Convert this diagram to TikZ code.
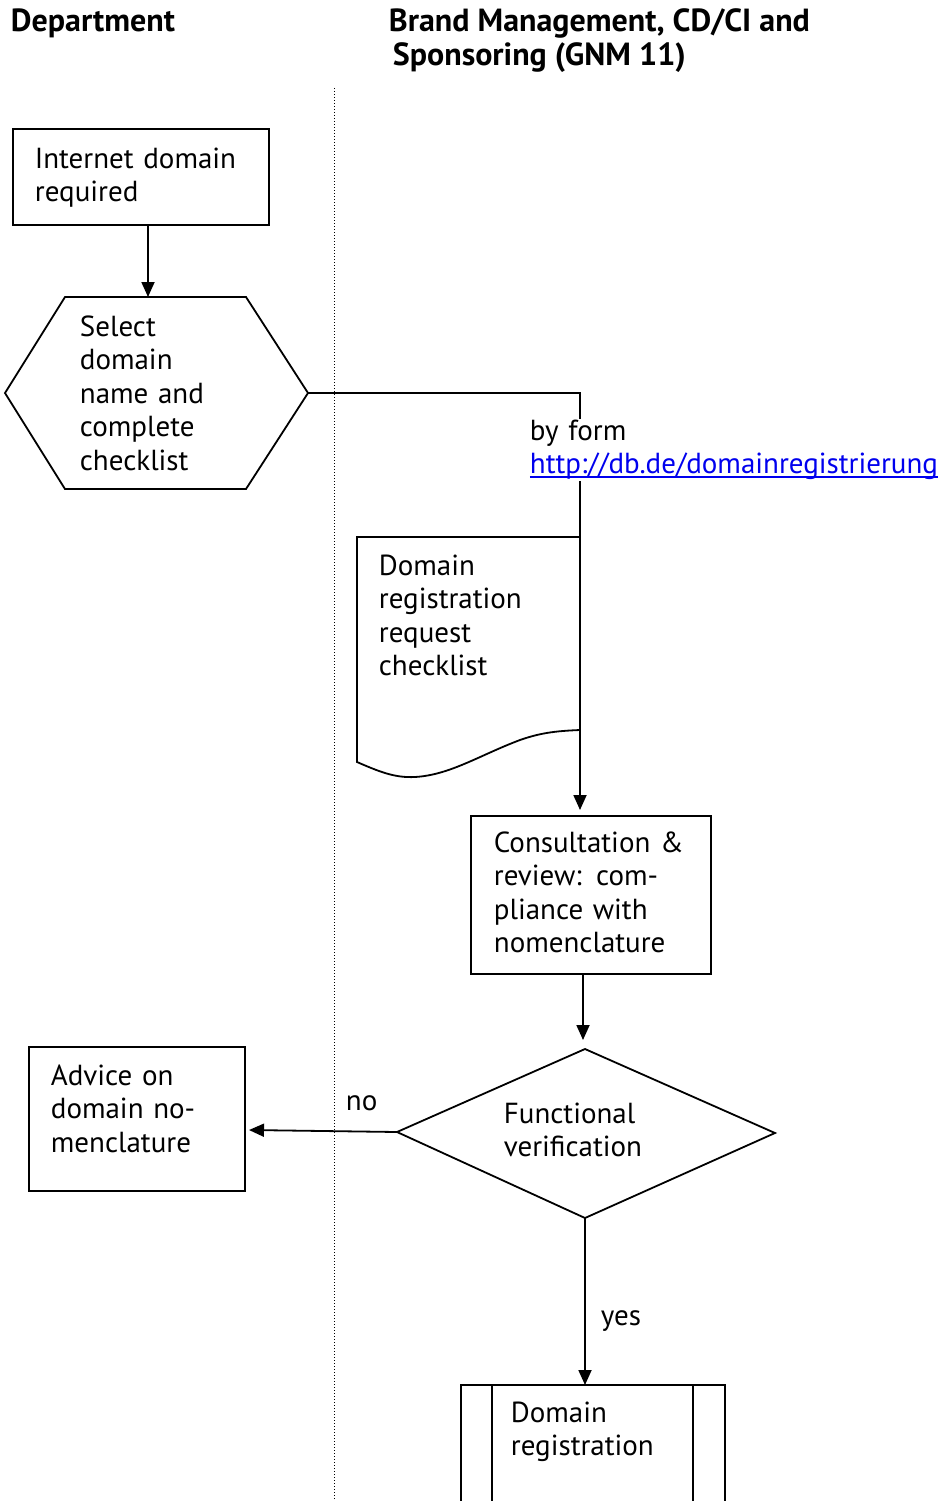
\documentclass[tikz,border=0pt]{standalone}
\usepackage{fontspec}
\setmainfont{PT Sans}
\usetikzlibrary{arrows.meta}
\definecolor{linkblue}{RGB}{0,0,238}
\newcommand{\linkul}[1]{\setbox0\hbox{#1}\rlap{\raisebox{-4pt}{\rule{\wd0}{1.6pt}}}\box0}
\begin{document}
\begin{tikzpicture}[x=1pt,y=-1pt,line width=1.8pt,
  txt/.style={anchor=base west,inner sep=0pt,align=left,text width=#1,font=\fontsize{29}{33.6}\selectfont},
  head/.style={anchor=base west,inner sep=0pt,font=\bfseries\fontsize{32}{34}\selectfont},
  arr/.style={-{Triangle[length=15pt,width=13pt]}},
  shp/.style={draw,line width=1.8pt}]
\useasboundingbox (0,0) rectangle (946,1501);
\clip (0,0) rectangle (946,1501);
% headings
\node[head] (h1) at (10,32) {Department};
\node[head] (h2) at (388,32) {Brand Management, CD/CI and};
\node[head] (h3) at (392,66) {Sponsoring (GNM 11)};
% swimlane divider
\draw[line width=1pt,dash pattern=on 1.2pt off 1.8pt] (334,88) coordinate (lt) -- (334,1501) coordinate (lb);
% box 1
\draw[shp] (13,129) rectangle (269,225);
\node[txt=240pt] (t1) at (34,168) {Internet domain\\required};
\coordinate (b1s) at (148,225);
% hexagon
\draw[shp] (65,297) -- (246,297) -- (308,393) -- (246,489) -- (65,489) -- (5,393) -- cycle;
\coordinate (hexT) at (148,297);
\coordinate (hexR) at (308,393);
\node[txt=170pt] (t2) at (79,336) {Select\\domain\\name and\\complete\\checklist};
\draw[arr] (b1s) -- (hexT);
% document shape
\coordinate (docTR) at (580,537);
\draw[shp] (docTR) -- (357,537) -- (357,762)
  .. controls (380,772) and (395,778) .. (415,777)
  .. controls (450,775) and (480,755) .. (520,740)
  .. controls (540,733) and (555,731) .. (580,730);
\node[txt=210pt] (t3) at (378,575) {Domain\\registration\\request\\checklist};
% consultation box
\draw[shp] (471,816) rectangle (711,974);
\coordinate (c1n) at (580,810);
\coordinate (c1s) at (583,974);
\node[txt=230pt] (t4) at (493,852) {Consultation \&\\review: com-\\pliance with\\nomenclature};
% connector hexagon -> consultation
\draw[arr] (hexR) -- (580,393) -- (c1n);
\node[txt=430pt,fill=white,inner sep=1pt] (lbl) at (528,440) {by form\\\textcolor{linkblue}{\linkul{http://db.de/domainregistrierung}}};
% diamond
\coordinate (dT) at (585,1049);
\coordinate (dR) at (775,1133);
\coordinate (dB) at (585,1218);
\coordinate (dL) at (397,1132);
\draw[shp] (dT) -- (dR) -- (dB) -- (dL) -- cycle;
\node[txt=210pt] (t5) at (503,1123) {Functional\\verification};
\draw[arr] (c1s) -- (583,1040);
% advice box
\draw[shp] (29,1047) rectangle (245,1191);
\coordinate (aE) at (249,1130);
\node[txt=200pt] (t6) at (50,1085) {Advice on\\domain no-\\menclature};
\draw[arr] (dL) -- (aE);
\node[txt=60pt] (no) at (345,1110) {no};
% registration box
\coordinate (rN) at (585,1385);
\draw[arr] (dB) -- (rN);
\node[txt=60pt] (yes) at (600,1325) {yes};
\draw[shp] (461,1530) -- (461,1385) -- (725,1385) -- (725,1530);
\draw[shp] (492,1385) -- (492,1530);
\draw[shp] (693,1385) -- (693,1530);
\node[txt=190pt] (t7) at (510,1422) {Domain\\registration};
\end{tikzpicture}
\end{document}
